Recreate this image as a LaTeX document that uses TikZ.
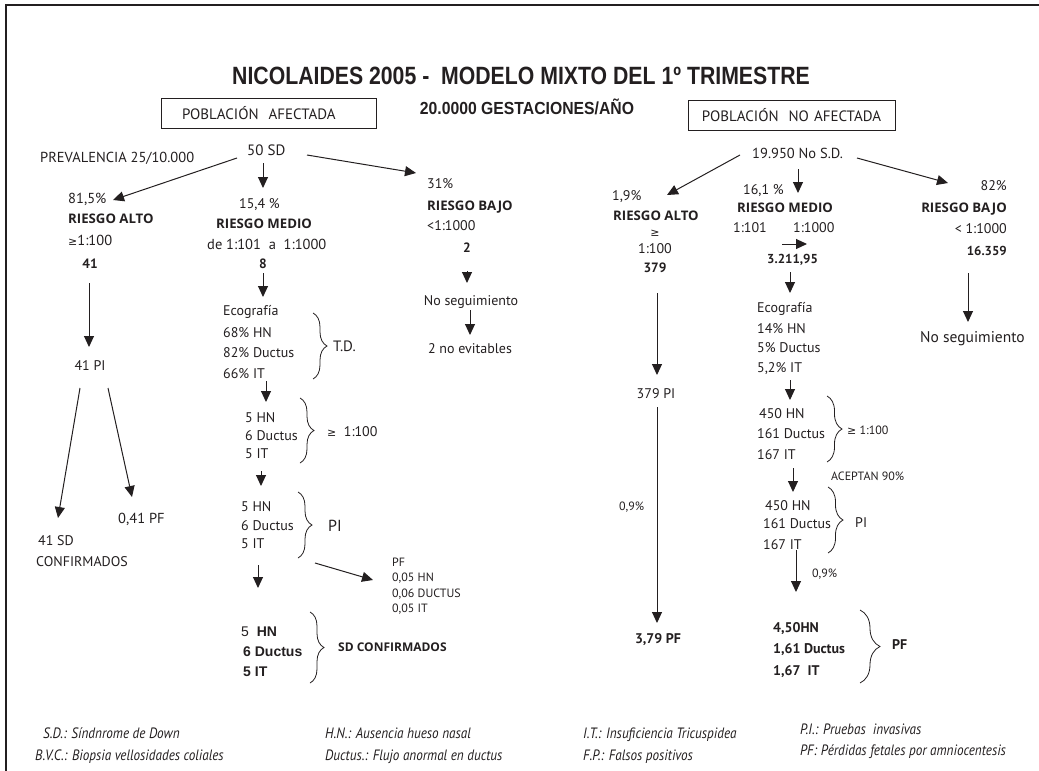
\documentclass[tikz,border=0pt]{standalone}
\usepackage{fontspec}
\setmainfont{PT Sans}
\newfontfamily\titlefont[FakeStretch=0.85]{Liberation Sans}
\newfontfamily\subfont[FakeStretch=0.9]{Liberation Sans}
\newfontfamily\arialfont{Liberation Sans}
\newfontfamily\headfont{Open Sans}
\newfontfamily\symfont{DejaVu Sans}
\newfontfamily\notefont[FakeStretch=0.88]{PT Sans}
\usetikzlibrary{arrows.meta,decorations.pathreplacing}
\definecolor{ink}{HTML}{231F20}
\newcommand\fsz[1]{\fontsize{#1}{#1}\selectfont}
\newcommand\gesym{{\symfont\fsz{11}≥}}
\tikzset{
  txt/.style={inner sep=0pt, anchor=base west, text=ink, font=\fsz{14}},
  txtc/.style={txt, anchor=base},
  txte/.style={txt, anchor=base east},
  bld/.style={font=\fsz{13.5}\bfseries},
  head/.style={font=\headfont\bfseries\fsz{13.2}},
  small/.style={font=\fsz{12}},
  abold/.style={font=\arialfont\fsz{14}\bfseries},
  note/.style={txt, font=\notefont\itshape\fsz{15}},
  arr/.style={draw=ink, line width=1pt, -{Triangle[length=11pt,width=10pt]}},
  curly/.style={draw=ink, line width=0.8pt, decorate, decoration={brace, amplitude=#1}},
  popbox/.style={draw=ink, line width=1pt, inner ysep=0pt, minimum height=30pt, text=ink,
    font=\fsz{15}}
}
\begin{document}
\begin{tikzpicture}[x=1pt,y=-1pt]
\useasboundingbox (0,0) rectangle (1039,771);
% frame edges
\draw[ink, line width=2pt] (1039,5) -- (6,5) -- (6,771);

% headings
\node[txtc, font=\titlefont\bfseries\fsz{25}] (title) at (521,84) {NICOLAIDES 2005 -\ \ MODELO MIXTO DEL 1º TRIMESTRE};
\node[txtc, font=\subfont\bfseries\fsz{17.5}] (sub) at (527,114.5) {20.0000 GESTACIONES/AÑO};
\node[popbox, align=left, inner xsep=21pt, text width=173pt] (popA) at (268.5,113) {POBLACIÓN\ \ AFECTADA};
\node[popbox, align=center, inner xsep=0pt, text width=207pt] (popB) at (791.5,115.5) {POBLACIÓN\ \ NO AFECTADA};

% ---------------- affected population ----------------
\node[txt, font=\fsz{14.5}] (prev) at (40,162.5) {PREVALENCIA 25/10.000};
\node[txt, font=\fsz{15}] (sd50) at (247,155.5) {50 SD};

% high risk branch
\node[txt, font=\fsz{14.5}] (aPct) at (68,203) {81,5\%};
\node[txt, head] (aHead) at (68,223) {RIESGO ALTO};
\node[txt, font=\fsz{14.5}] (aCut) at (68,245) {\gesym1:100};
\node[txtc, bld] (aN) at (90,268) {41};
\node[txtc] (aPI) at (90,370) {41 PI};
\node[txt, font=\fsz{14.5}] (aPF) at (118,523) {0,41 PF};
\node[txt] (aSD) at (38,545) {41 SD};
\node[txt] (aConf) at (36,566) {CONFIRMADOS};

% medium risk branch
\node[txt] (mPct) at (239,208) {15,4 \%};
\node[txt, head] (mHead) at (216,228) {RIESGO MEDIO};
\node[txt, font=\fsz{14.5}] (mCut) at (207,249) {de 1:101\ \ a\ \ 1:1000};
\node[txtc, bld] (mN) at (263,268) {8};
\node[txt] (mEco) at (223,315) {Ecografía};
\node[txt] (mEa) at (223,337) {68\% HN};
\node[txt] (mEb) at (223,357) {82\% Ductus};
\node[txt] (mEc) at (223,378) {66\% IT};
\node[txt, font=\fsz{15}] (mTD) at (333,351) {T.D.};
\node[txt] (mHa) at (245,422) {5 HN};
\node[txt] (mHb) at (245,440) {6 Ductus};
\node[txt] (mHc) at (245,458) {5 IT};
\node[txt] (mHr) at (327,436) {\gesym\ \ 1:100};
\node[txt] (mPa) at (241,511) {5 HN};
\node[txt] (mPb) at (241,530) {6 Ductus};
\node[txt] (mPc) at (241,548) {5 IT};
\node[txt, font=\fsz{16}] (mPI) at (328,531) {PI};
\node[txt, small] (mFa) at (392,566) {PF};
\node[txt, small] (mFb) at (392,581) {0,05 HN};
\node[txt, small] (mFc) at (392,597) {0,06 DUCTUS};
\node[txt, small] (mFd) at (392,612) {0,05 IT};
\node[txt, abold] (mCa) at (241,636) {{\mdseries 5}\ \ HN};
\node[txt, abold] (mCb) at (243,656) {6 Ductus};
\node[txt, abold] (mCc) at (243,676) {5 IT};
\node[txt, font=\headfont\bfseries\fsz{12}] (mConf) at (338,651.5) {SD CONFIRMADOS};

% low risk branch
\node[txt] (bPct) at (427,188) {31\%};
\node[txt, head] (bHead) at (427,210) {RIESGO BAJO};
\node[txt] (bCut) at (427,230) {<1:1000};
\node[txtc, bld] (bN) at (467,252) {2};
\node[txtc] (bNo) at (471,305) {No seguimiento};
\node[txtc] (bEnd) at (470,353) {2 no evitables};

% connectors, affected side
\coordinate (c1) at (237,158); \coordinate (c1e) at (113,200);
\coordinate (c2) at (263,163); \coordinate (c2e) at (263,188);
\coordinate (c3) at (307,155); \coordinate (c3e) at (416,173);
\draw[arr] (c1) -- (c1e);
\draw[arr] (c2) -- (c2e);
\draw[arr] (c3) -- (c3e);
\coordinate (c4) at (89,283); \coordinate (c4e) at (89,347);
\draw[arr] (c4) -- (c4e);
\coordinate (c5) at (80,388); \coordinate (c5e) at (58,518);
\coordinate (c6) at (108,388); \coordinate (c6e) at (132,497);
\draw[arr] (c5) -- (c5e);
\draw[arr] (c6) -- (c6e);
\coordinate (c7) at (263,273); \coordinate (c7e) at (263,297);
\draw[arr] (c7) -- (c7e);
\coordinate (c8) at (266,381); \coordinate (c8e) at (266,402);
\draw[arr] (c8) -- (c8e);
\coordinate (c9) at (261,471); \coordinate (c9e) at (261,486);
\draw[arr] (c9) -- (c9e);
\coordinate (c10) at (258,565); \coordinate (c10e) at (258,588);
\draw[arr] (c10) -- (c10e);
\coordinate (c11) at (315,563); \coordinate (c11e) at (373,580);
\draw[arr] (c11) -- (c11e);
\coordinate (c12) at (467,271); \coordinate (c12e) at (467,283);
\draw[arr] (c12) -- (c12e);
\coordinate (c13) at (470,310); \coordinate (c13e) at (470,335);
\draw[arr] (c13) -- (c13e);

% braces, affected side
\coordinate (k1) at (313,313); \coordinate (k1e) at (313,379);
\draw[curly=14pt] (k1) -- (k1e);
\coordinate (k2) at (300,398); \coordinate (k2e) at (300,463);
\draw[curly=14pt] (k2) -- (k2e);
\coordinate (k3) at (298,492); \coordinate (k3e) at (298,558);
\draw[curly=14pt] (k3) -- (k3e);
\coordinate (k4) at (310,612); \coordinate (k4e) at (310,683);
\draw[curly=14pt] (k4) -- (k4e);

% ---------------- unaffected population ----------------
\node[txt, font=\fsz{14.5}] (nsd) at (752,158) {19.950 No S.D.};

\node[txt] (rAPct) at (612,200) {1,9\%};
\node[txt, head] (rAHead) at (613,220) {RIESGO ALTO};
\node[txtc] (rAGe) at (655,236.5) {\gesym};
\node[txtc] (rACut) at (655,253) {1:100};
\node[txtc, bld] (rAN) at (655,272) {379};
\node[txtc] (rAPI) at (656,398) {379 PI};
\node[txt, small] (rALoss) at (619,510.5) {0,9\%};
\node[txtc, font=\fsz{14}\bfseries] (rAPF) at (658,643) {3,79 PF};

\node[txt] (rMPct) at (743,194) {16,1 \%};
\node[txt, head] (rMHead) at (737,212) {RIESGO MEDIO};
\node[txt] (rMLo) at (733,232) {1:101};
\node[txt] (rMHi) at (793,232) {1:1000};
\node[txt, font=\fsz{13}\bfseries] (rMN) at (767,263) {3.211,95};
\node[txt] (rMEco) at (757,312) {Ecografía};
\node[txt] (rMEa) at (757,333) {14\% HN};
\node[txt] (rMEb) at (757,352) {5\% Ductus};
\node[txt] (rMEc) at (757,372) {5,2\% IT};
\node[txt] (rMHa) at (759,418) {450 HN};
\node[txt] (rMHb) at (757,438) {161 Ductus};
\node[txt] (rMHc) at (757,459) {167 IT};
\node[txt, small] (rMHr) at (847,434) {\gesym\ 1:100};
\node[txt, small] (rMAcc) at (831,480) {ACEPTAN 90\%};
\node[txt] (rMPa) at (765,510) {450 HN};
\node[txt] (rMPb) at (763,528) {161 Ductus};
\node[txt] (rMPc) at (763,549) {167 IT};
\node[txt, font=\fsz{14}] (rMPI) at (855,527) {PI};
\node[txt, small] (rMLoss) at (812,577) {0,9\%};
\node[txt, font=\fsz{14}\bfseries] (rMFa) at (773,632) {4,50HN};
\node[txt, font=\fsz{14}\bfseries] (rMFb) at (773,653) {1,61 Ductus};
\node[txt, font=\fsz{14}\bfseries] (rMFc) at (773,675) {1,67\ \ IT};
\node[txt, font=\fsz{14}\bfseries] (rMPF) at (892,649) {PF};

\node[txte] (rBPct) at (1007,190) {82\%};
\node[txte, head] (rBHead) at (1007,212) {RIESGO BAJO};
\node[txte] (rBCut) at (1007,233) {< 1:1000};
\node[txte, font=\fsz{13}\bfseries] (rBN) at (1007,255) {16.359};
\node[txt, font=\fsz{15.5}] (rBNo) at (920,342.5) {No seguimiento};

% connectors, unaffected side
\coordinate (d1) at (740,155); \coordinate (d1e) at (667,195);
\coordinate (d2) at (798,169); \coordinate (d2e) at (798,193);
\coordinate (d3) at (857,158); \coordinate (d3e) at (948,183);
\draw[arr] (d1) -- (d1e);
\draw[arr] (d2) -- (d2e);
\draw[arr] (d3) -- (d3e);
\coordinate (d4) at (657,293); \coordinate (d4e) at (657,375);
\draw[arr] (d4) -- (d4e);
\coordinate (d5) at (657,407); \coordinate (d5e) at (657,623);
\draw[arr] (d5) -- (d5e);
\coordinate (d6) at (782,244); \coordinate (d6e) at (807,244);
\draw[arr] (d6) -- (d6e);
\coordinate (d7) at (790,272); \coordinate (d7e) at (790,293);
\draw[arr] (d7) -- (d7e);
\coordinate (d8) at (790,380); \coordinate (d8e) at (790,400);
\draw[arr] (d8) -- (d8e);
\coordinate (d9) at (793,468); \coordinate (d9e) at (793,492);
\draw[arr] (d9) -- (d9e);
\coordinate (d10) at (796,550); \coordinate (d10e) at (796,592);
\draw[arr] (d10) -- (d10e);
\coordinate (d11) at (968,273); \coordinate (d11e) at (968,322);
\draw[arr] (d11) -- (d11e);

% braces, unaffected side
\coordinate (q1) at (827,396); \coordinate (q1e) at (827,462);
\draw[curly=15pt] (q1) -- (q1e);
\coordinate (q2) at (828,487); \coordinate (q2e) at (828,553);
\draw[curly=15pt] (q2) -- (q2e);
\coordinate (q3) at (860,610); \coordinate (q3e) at (860,683);
\draw[curly=20pt] (q3) -- (q3e);

% abbreviations
\node[note] (nSD) at (43,738) {S.D.: Síndnrome de Down};
\node[note] (nBVC) at (35,760) {B.V.C.: Biopsia vellosidades coliales};
\node[note] (nHN) at (325,738) {H.N.: Ausencia hueso nasal};
\node[note] (nDuc) at (325,760) {Ductus.: Flujo anormal en ductus};
\node[note] (nIT) at (583,738) {I.T.: Insuficiencia Tricuspidea};
\node[note] (nFP) at (583,760) {F.P.: Falsos positivos};
\node[note] (nPI) at (800,734) {P.I.: Pruebas\ \ invasivas};
\node[note] (nPF) at (800,755) {PF: Pérdidas fetales por amniocentesis};
\end{tikzpicture}
\end{document}
